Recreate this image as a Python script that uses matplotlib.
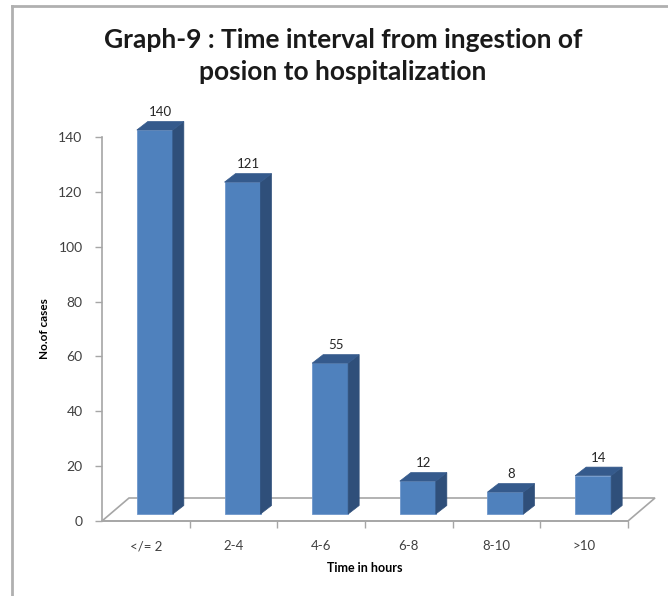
import matplotlib.pyplot as plt
from matplotlib.patches import Polygon
from matplotlib.lines import Line2D

# data
categories = ['</= 2', '2-4', '4-6', '6-8', '8-10', '>10']
cases = [140, 121, 55, 12, 8, 14]
y_ticks = [0, 20, 40, 60, 80, 100, 120, 140]

plt.rcParams['font.family'] = ['Lato', 'DejaVu Sans']

fig = plt.figure(figsize=(6.68, 5.96), dpi=100)
W, H = 668, 596
# axes placed in pixels: x 102..628, y(0)=521, y(140)=137
ax = fig.add_axes([102 / W, (H - 521) / H, 526 / W, 384 / H])
ax.set_xlim(-0.5, len(categories) - 0.5)
ax.set_ylim(0, 140)

# pixel -> data unit helpers
px_x = 6 / 526
px_y = 140 / 384

front_col = '#4f81bd'
side_col = '#2f4f7a'
top_col = '#355a8c'
axis_col = '#a6a6a6'

# 3d floor
fdx, fdy = 27 * px_x, 23 * px_y
floor = [(-0.5, 0), (5.5, 0), (5.5 + fdx, fdy), (-0.5 + fdx, fdy)]
ax.add_patch(Polygon(floor, closed=True, facecolor='white', edgecolor=axis_col,
                     lw=1.2, clip_on=False, zorder=1))

# bars (front face shifted into the depth, plus side and top faces)
ox, oy = 9 * px_x, 7 * px_y
bw = 36 * px_x
dx, dy = 11 * px_x, 8.5 * px_y
xs = list(range(len(categories)))
ax.bar([x + ox for x in xs], cases, width=bw, bottom=oy, color=front_col,
       edgecolor='#6f97cc', linewidth=0.6, zorder=3, clip_on=False)
for x, v in zip(xs, cases):
    l = x + ox - bw / 2
    r = x + ox + bw / 2
    t = v + oy
    side = [(r, oy), (r + dx, oy + dy), (r + dx, t + dy), (r, t)]
    top = [(l, t), (r, t), (r + dx, t + dy), (l + dx, t + dy)]
    ax.add_patch(Polygon(side, closed=True, facecolor=side_col, edgecolor=side_col,
                         lw=0.5, clip_on=False, zorder=3))
    ax.add_patch(Polygon(top, closed=True, facecolor=top_col, edgecolor=top_col,
                         lw=0.5, clip_on=False, zorder=3))
    ax.text(x + ox + dx / 2, t + dy + 1.2, str(v), ha='center', va='bottom',
            fontsize=9.5, color='#262626', zorder=4)

# axes styling
for s in ['top', 'right']:
    ax.spines[s].set_visible(False)
ax.spines['left'].set_color(axis_col)
ax.spines['bottom'].set_color(axis_col)
ax.spines['left'].set_linewidth(1.2)
ax.spines['bottom'].set_linewidth(1.2)
ax.set_yticks(y_ticks)
ax.tick_params(axis='y', length=5, width=1, color=axis_col, labelsize=10,
               labelcolor='#404040', pad=9)
ax.set_xticks(xs)
ax.set_xticklabels(categories)
ax.tick_params(axis='x', length=0, labelsize=9.5, labelcolor='#404040', pad=14)
ax.set_xticks([x + 0.5 for x in xs], minor=True)
ax.tick_params(axis='x', which='minor', length=5, width=1, color=axis_col)
ax.set_facecolor('none')

ax.set_ylabel('No.of cases', fontsize=8.5, fontweight='bold', labelpad=6)
ax.set_xlabel('Time in hours', fontsize=9, fontweight='bold', labelpad=7)

fig.text(343 / W, 1 - 40 / H, 'Graph-9 : Time interval from ingestion of',
         ha='center', va='center', fontsize=19, fontweight='bold', color='#1a1a1a')
fig.text(343 / W, 1 - 72 / H, 'posion to hospitalization',
         ha='center', va='center', fontsize=19, fontweight='bold', color='#1a1a1a')

# outer frame lines (top and left only)
fig.add_artist(Line2D([12 / W, 1], [1 - 6 / H, 1 - 6 / H], color='#b0b0b0', lw=2))
fig.add_artist(Line2D([12 / W, 12 / W], [0, 1 - 6 / H], color='#b0b0b0', lw=2))

fig.savefig('out.png', dpi=100)
